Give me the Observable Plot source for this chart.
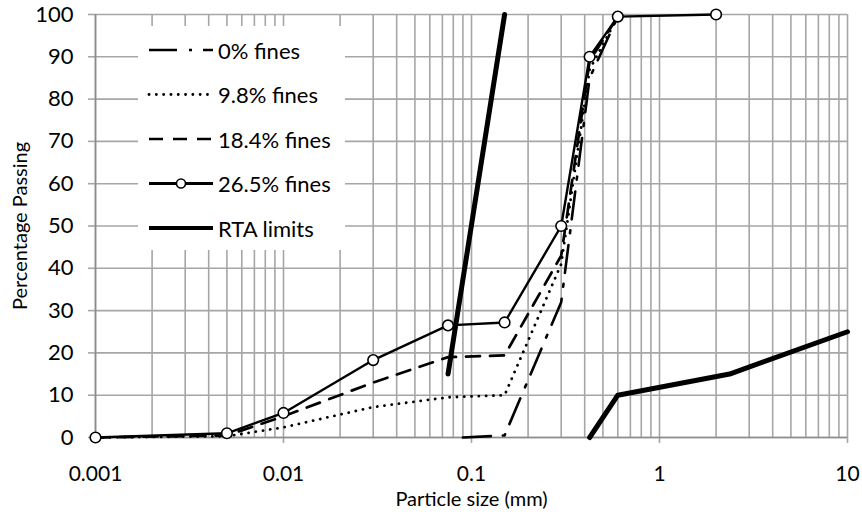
<!DOCTYPE html>
<html>
<head>
<meta charset="utf-8">
<script src="https://cdn.jsdelivr.net/npm/d3@7"></script>
<script src="https://cdn.jsdelivr.net/npm/@observablehq/plot@0.6"></script>
<style>
  html, body { margin: 0; padding: 0; background: #fff; }
  #wrap { position: relative; width: 862px; height: 514px; font-family: Lato, "Open Sans", sans-serif; }
  #legend { position: absolute; left: 138px; top: 26px; width: 207px; height: 224px; background: #fff; }
</style>
</head>
<body>
<div id="wrap"><div id="chart"></div><div id="legend"></div></div>
<script>
// ---- data ----
const seriesNames = ["0% fines", "9.8% fines", "18.4% fines", "26.5% fines", "RTA limits"];

const size0 = [0.09, 0.15, 0.3, 0.425, 0.6];
const pass0 = [0, 0.5, 32, 85, 99.5];

const size98 = [0.001, 0.005, 0.01, 0.03, 0.075, 0.15, 0.3, 0.425, 0.6];
const pass98 = [0, 0.3, 2.4, 7.2, 9.5, 10, 41, 87, 99.5];

const size184 = [0.001, 0.005, 0.01, 0.03, 0.075, 0.15, 0.3, 0.425, 0.6];
const pass184 = [0, 0.5, 5, 13, 19, 19.4, 43, 89, 99.5];

const size265 = [0.001, 0.005, 0.01, 0.03, 0.075, 0.15, 0.3, 0.425, 0.6, 2];
const pass265 = [0, 1, 5.8, 18.3, 26.5, 27.2, 50, 90, 99.5, 100];

const rtaSize = [0.075, 0.15, 0.425, 0.6, 2.36, 10];
const rtaPass = [15, 100, 0, 10, 15, 25];
const rtaSeg  = ["fine", "fine", "coarse", "coarse", "coarse", "coarse"];

const xTickValues = [0.001, 0.01, 0.1, 1, 10];
const xTickLabels = ["0.001", "0.01", "0.1", "1", "10"];
const yTickValues = [0, 10, 20, 30, 40, 50, 60, 70, 80, 90, 100];

const xTitle = "Particle size (mm)";
const yTitle = "Percentage Passing";

// ---- tables ----
const toRows = (xs, ys, extra) => xs.map((x, i) => ({x, y: ys[i], g: extra ? extra[i] : null}));
const d0 = toRows(size0, pass0);
const d98 = toRows(size98, pass98);
const d184 = toRows(size184, pass184);
const d265 = toRows(size265, pass265);
const dRta = toRows(rtaSize, rtaPass, rtaSeg);

const minorTicks = d3.scaleLog().domain([0.001, 10]).ticks();
const gridColor = "#a6a6a6";

const styles = {
  s0:   {stroke: "black", strokeWidth: 2.6, strokeDasharray: "28,12,3,11"},
  s98:  {stroke: "black", strokeWidth: 2.8, strokeDasharray: "0.1,7.2", strokeLinecap: "round"},
  s184: {stroke: "black", strokeWidth: 2.7, strokeDasharray: "14,10"},
  s265: {stroke: "black", strokeWidth: 2.4},
  rta:  {stroke: "black", strokeWidth: 5}
};

const chart = Plot.plot({
  width: 862,
  height: 514,
  marginLeft: 95,
  marginRight: 15,
  marginTop: 14,
  marginBottom: 77,
  style: {fontFamily: "Lato, 'Open Sans', sans-serif", fontSize: "22px", color: "black", background: "white"},
  x: {type: "log", domain: [0.001, 10]},
  y: {domain: [0, 100]},
  marks: [
    Plot.ruleX(minorTicks, {stroke: gridColor, strokeWidth: 1.6}),
    Plot.ruleY(yTickValues, {stroke: gridColor, strokeWidth: 1.6}),
    Plot.axisY({ticks: yTickValues, tickSize: 7, tickPadding: 15, stroke: gridColor, strokeWidth: 1.6, label: null, fontSize: 22, fill: "black"}),
    Plot.axisX({ticks: xTickValues, tickSize: 6, tickPadding: 23, stroke: gridColor, strokeWidth: 1.6, label: null, fontSize: 21, fill: "black",
      tickFormat: d => xTickLabels[xTickValues.indexOf(d)]}),
    Plot.ruleY([0], {stroke: "#8c8c8c", strokeWidth: 1.6}),
    Plot.ruleX([0.001], {stroke: "#8c8c8c", strokeWidth: 1.6}),
    Plot.line(dRta, {x: "x", y: "y", z: "g", ...styles.rta, strokeLinejoin: "round", strokeLinecap: "round"}),
    Plot.line(d0, {x: "x", y: "y", ...styles.s0}),
    Plot.line(d98, {x: "x", y: "y", ...styles.s98}),
    Plot.line(d184, {x: "x", y: "y", ...styles.s184}),
    Plot.line(d265, {x: "x", y: "y", ...styles.s265}),
    Plot.dot(d265, {x: "x", y: "y", r: 5.3, fill: "white", stroke: "black", strokeWidth: 1.6}),
    Plot.text([xTitle], {frameAnchor: "bottom", dy: 68, fontSize: 20, fill: "black"}),
    Plot.text([yTitle], {frameAnchor: "left", dx: -75, rotate: -90, textAnchor: "middle", fontSize: 20, fill: "black"})
  ]
});
document.getElementById("chart").appendChild(chart);

// ---- legend (inside plot area, white box) ----
const legendStyles = [styles.s0, styles.s98, styles.s184, styles.s265, styles.rta];
const ns = "http://www.w3.org/2000/svg";
const lsvg = document.createElementNS(ns, "svg");
lsvg.setAttribute("width", 207);
lsvg.setAttribute("height", 224);
lsvg.style.fontFamily = "Lato, 'Open Sans', sans-serif";
seriesNames.forEach((name, i) => {
  const cy = 24 + i * 44.5;
  const st = legendStyles[i];
  const ln = document.createElementNS(ns, "line");
  ln.setAttribute("x1", 11); ln.setAttribute("x2", 75);
  ln.setAttribute("y1", cy); ln.setAttribute("y2", cy);
  ln.setAttribute("stroke", st.stroke);
  ln.setAttribute("stroke-width", i === 4 ? 4 : (i === 3 ? 3 : st.strokeWidth));
  if (st.strokeDasharray) ln.setAttribute("stroke-dasharray", st.strokeDasharray);
  if (st.strokeLinecap) ln.setAttribute("stroke-linecap", st.strokeLinecap);
  lsvg.appendChild(ln);
  if (i === 3) {
    const c = document.createElementNS(ns, "circle");
    c.setAttribute("cx", 43); c.setAttribute("cy", cy); c.setAttribute("r", 4.5);
    c.setAttribute("fill", "white"); c.setAttribute("stroke", "black"); c.setAttribute("stroke-width", 1.6);
    lsvg.appendChild(c);
  }
  const t = document.createElementNS(ns, "text");
  t.setAttribute("x", 80); t.setAttribute("y", cy);
  t.setAttribute("dominant-baseline", "central");
  t.setAttribute("font-size", 22);
  t.textContent = name;
  lsvg.appendChild(t);
});
document.getElementById("legend").appendChild(lsvg);
</script>
</body>
</html>
